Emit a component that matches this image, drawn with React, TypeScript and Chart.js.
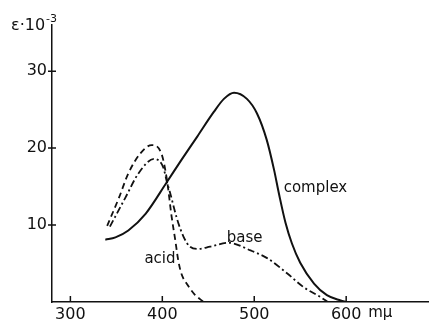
import { useEffect, useRef } from "react";
import { Chart, registerables } from "chart.js";

Chart.register(...registerables);

// Absorption spectra: wavelength (mμ) vs. molar extinction ε·10^-3
const complexWl = [338, 349, 363, 382, 405, 421, 438, 456, 467, 478, 492, 503, 513.5, 521.5, 527, 534, 541, 550, 565, 579, 594, 600];
const complexEps = [8.1, 8.4, 9.3, 11.5, 15.6, 18.5, 21.5, 24.7, 26.4, 27.2, 26.4, 24.5, 21.1, 17.2, 14.0, 10.3, 7.6, 5.1, 2.4, 0.9, 0.2, 0];

const acidWl = [340, 353, 363, 376, 388.5, 399, 405, 410, 414, 417.5, 421, 427, 435, 445];
const acidEps = [9.9, 13.6, 16.7, 19.3, 20.4, 19.3, 15.9, 11.2, 8.1, 5.3, 3.6, 2.3, 1.0, 0];

const baseWl = [343, 360, 374, 391, 401, 405, 408, 416, 423, 430, 439, 452, 472, 496, 514, 536, 554, 572, 580];
const baseEps = [9.8, 13.6, 16.7, 18.6, 17.5, 15.6, 14.4, 10.8, 8.5, 7.2, 6.9, 7.2, 7.7, 6.7, 5.7, 3.7, 1.9, 0.65, 0];

const xTickValues = [300, 400, 500, 600];
const yTickValues = [10, 20, 30];
const xUnit = "mμ";
const yTitle = "ε·10";
const yTitleExp = "-3";

// curve names with the (wavelength, ε) spot where each name is written
const curveNames = ["complex", "base", "acid"];
const nameWl = [532, 470, 380.5];
const nameEps = [14.3, 7.85, 5.05];

const FONT = "'DejaVu Sans', sans-serif";
const INK = "#111";

const toPoints = (xs: number[], ys: number[]) => xs.map((x, i) => ({ x, y: ys[i] }));

const decorations = {
  id: "decorations",
  afterDraw(chart: any) {
    const { ctx } = chart;
    const x = chart.scales.x;
    const y = chart.scales.y;
    ctx.save();
    ctx.strokeStyle = INK;
    ctx.lineWidth = 1.5;
    ctx.beginPath();
    xTickValues.forEach((v) => {
      const px = x.getPixelForValue(v);
      ctx.moveTo(px, y.bottom);
      ctx.lineTo(px, y.bottom - 6);
    });
    yTickValues.forEach((v) => {
      const py = y.getPixelForValue(v);
      ctx.moveTo(x.left - 4, py);
      ctx.lineTo(x.left + 4, py);
    });
    ctx.stroke();

    ctx.fillStyle = INK;
    ctx.textAlign = "left";
    ctx.textBaseline = "alphabetic";
    ctx.font = `15px ${FONT}`;
    curveNames.forEach((name, i) => {
      ctx.fillText(name, x.getPixelForValue(nameWl[i]), y.getPixelForValue(nameEps[i]));
    });

    // unit after the last wavelength tick
    ctx.font = `15px ${FONT}`;
    ctx.fillText(xUnit, x.getPixelForValue(600) + 22, y.bottom + 15);

    // axis title
    ctx.font = `16px ${FONT}`;
    ctx.fillText(yTitle, 11, 30);
    const w = ctx.measureText(yTitle).width;
    ctx.font = `11px ${FONT}`;
    ctx.fillText(yTitleExp, 11 + w + 1, 22);
    ctx.restore();
  },
};

export default function App() {
  const ref = useRef<HTMLCanvasElement>(null);

  useEffect(() => {
    document.body.style.margin = "0";
    const canvas = ref.current;
    if (!canvas) return;
    const chart = new Chart(canvas, {
      type: "line",
      data: {
        datasets: [
          {
            label: curveNames[0],
            data: toPoints(complexWl, complexEps),
            borderColor: INK,
            borderWidth: 2,
            pointRadius: 0,
            cubicInterpolationMode: "monotone",
          },
          {
            label: curveNames[1],
            data: toPoints(baseWl, baseEps),
            borderColor: INK,
            borderWidth: 1.8,
            borderDash: [7, 3, 2, 3],
            pointRadius: 0,
            cubicInterpolationMode: "monotone",
          },
          {
            label: curveNames[2],
            data: toPoints(acidWl, acidEps),
            borderColor: INK,
            borderWidth: 1.8,
            borderDash: [6, 4],
            pointRadius: 0,
            cubicInterpolationMode: "monotone",
          },
        ],
      },
      options: {
        animation: false,
        responsive: false,
        devicePixelRatio: 1,
        layout: { padding: { top: 25, right: 2, left: 0, bottom: 0 } },
        plugins: { legend: { display: false }, tooltip: { enabled: false } },
        scales: {
          x: {
            type: "linear",
            min: 280,
            max: 689,
            grid: { display: false, drawTicks: false },
            border: { display: true, color: INK, width: 1.5 },
            afterBuildTicks: (s: any) => {
              s.ticks = xTickValues.map((v) => ({ value: v }));
            },
            afterFit: (s: any) => {
              s.height = 20;
            },
            ticks: {
              color: INK,
              font: { family: FONT, size: 16 },
              padding: 3,
              maxRotation: 0,
              callback: (v: any) => String(v),
            },
          },
          y: {
            type: "linear",
            min: 0,
            max: 36,
            grid: { display: false, drawTicks: false },
            border: { display: true, color: INK, width: 1.5 },
            afterBuildTicks: (s: any) => {
              s.ticks = yTickValues.map((v) => ({ value: v }));
            },
            afterFit: (s: any) => {
              s.width = 52;
            },
            ticks: {
              color: INK,
              font: { family: FONT, size: 16 },
              padding: 5,
              callback: (v: any) => String(v),
            },
          },
        },
      },
      plugins: [decorations],
    } as any);
    return () => chart.destroy();
  }, []);

  return (
    <div style={{ width: 430, height: 322, background: "#fff" }}>
      <canvas ref={ref} width={430} height={322} />
    </div>
  );
}
